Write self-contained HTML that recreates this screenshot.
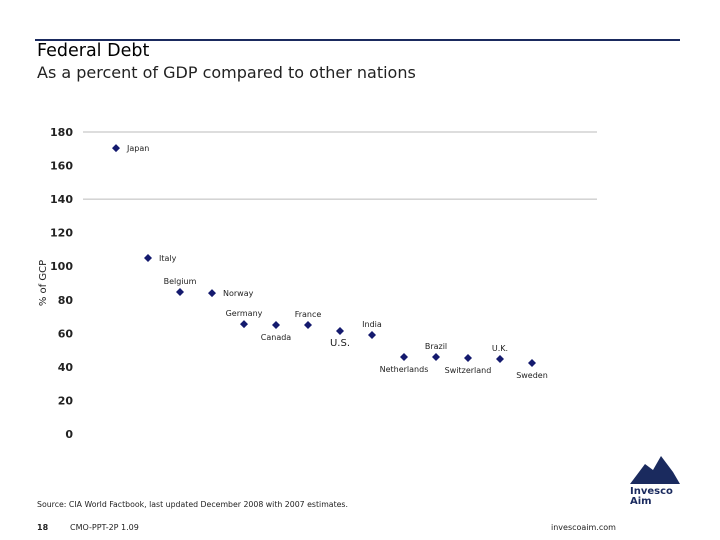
<!DOCTYPE html>
<html><head><meta charset="utf-8"><style>
body{margin:0;width:720px;height:540px;background:#fff;font-family:"DejaVu Sans","Liberation Sans",sans-serif;position:relative;overflow:hidden}
.t{position:absolute;white-space:nowrap}
</style></head><body>
<div style="position:absolute;left:35px;top:39px;width:645px;height:2px;background:#1a2a5e"></div>
<div class="t" style="left:37px;top:41px;font-size:17.5px;color:#000">Federal Debt</div>
<div class="t" style="left:37px;top:63px;font-size:16px;color:#222">As a percent of GDP compared to other nations</div>
<svg id="chart" width="720" height="540" style="position:absolute;left:0;top:0"></svg>
<div class="t" style="left:37px;top:500px;font-size:7.8px;color:#222">Source: CIA World Factbook, last updated December 2008 with 2007 estimates.</div>
<div class="t" style="left:37px;top:523px;font-size:8px;color:#222;font-weight:bold">18</div>
<div class="t" style="left:70px;top:523px;font-size:8px;color:#222">CMO-PPT-2P 1.09</div>
<div class="t" style="left:551px;top:523px;font-size:8px;color:#222">invescoaim.com</div>
<svg width="60" height="56" style="position:absolute;left:625px;top:452px">
<path d="M5 32 L20 12 L28 18 L36 4 L48 20 L55 32 Z" fill="#1a2a5e"/>
<text x="5" y="42" font-size="10" font-weight="bold" fill="#1a2a5e" font-family="DejaVu Sans">Invesco</text>
<text x="5" y="52" font-size="10" font-weight="bold" fill="#1a2a5e" font-family="DejaVu Sans">Aim</text>
</svg>
<script>
const countries=["Japan","Italy","Belgium","Norway","Germany","Canada","France","U.S.","India","Netherlands","Brazil","Switzerland","U.K.","Sweden"];
const debtValues=[170.4,104.9,84.6,84,65.5,65,65,61.4,59,45.9,45.9,45.3,44.7,42.3];
const yTicks=[0,20,40,60,80,100,120,140,160,180];
const gridValues=[140,180];
const labelSide=["r","r","a","r","a","b","a","b","a","b","a","b","a","b"];
const NS="http://www.w3.org/2000/svg";
const svg=document.getElementById('chart');
const y=v=>434-v*(302/180);
const x=i=>116+32*i;
function mk(t,a){const e=document.createElementNS(NS,t);for(const k in a)e.setAttribute(k,a[k]);svg.appendChild(e);return e;}
gridValues.forEach(g=>{const l=mk('line',{x1:83,x2:597,y1:y(g),y2:y(g),stroke:'#bbb','stroke-width':1});

});
yTicks.forEach(v=>{const t=mk('text',{x:73,y:y(v)+4,'text-anchor':'end','font-size':11,'font-weight':'bold',fill:'#222','font-family':'DejaVu Sans'});t.textContent=v;

});
const yt=mk('text',{x:0,y:0,transform:'translate(46,283) rotate(-90)','text-anchor':'middle','font-size':10,fill:'#222','font-family':'DejaVu Sans'});yt.textContent='% of GCP';


countries.forEach((c,i)=>{const px=x(i),py=y(debtValues[i]);
const d=mk('path',{d:`M${px} ${py-4}L${px+4} ${py}L${px} ${py+4}L${px-4} ${py}Z`,fill:'#141a6e'});


const s=labelSide[i];let lx=px,ly=py,anc='middle';
if(s==='r'){lx=px+11;ly=py+3;anc='start';}else if(s==='a'){ly=py-8;}else{ly=py+15;}
const t=mk('text',{x:lx,y:ly,'text-anchor':anc,'font-size':c==='U.S.'?10:8,fill:'#222','font-family':'DejaVu Sans'});t.textContent=c;

});
</script>
</body></html>
